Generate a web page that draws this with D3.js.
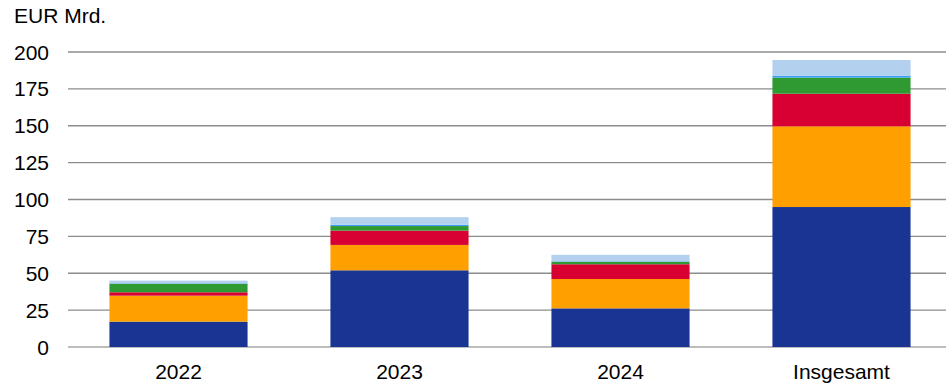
<!DOCTYPE html>
<html>
<head>
<meta charset="utf-8">
<script src="https://cdn.jsdelivr.net/npm/d3@7"></script>
<style>
  body { margin: 0; background: #fff; }
  text { font-family: "Liberation Sans", Arial, sans-serif; fill: #000; }
</style>
</head>
<body>
<svg id="chart" width="946" height="387"></svg>
<script>
'use strict';

const categories = ['2022', '2023', '2024', 'Insgesamt'];
const seriesKeys = ['s1', 's2', 's3', 's4', 's5', 's6'];
const seriesColors = ['#1a3494', '#ff9f00', '#d80032', '#2e9a31', '#3b9ff0', '#b3d0ef'];

// values, bottom to top
const s1 = [17.2, 52.0, 26.2, 94.9];
const s2 = [17.6, 17.2, 19.9, 54.7];
const s3 = [2.3, 9.7, 10.0, 22.1];
const s4 = [5.8, 3.1, 1.7, 10.9];
const s5 = [0.3, 0.9, 0.3, 1.4];
const s6 = [1.8, 5.1, 4.4, 10.6];

const yTicks = [0, 25, 50, 75, 100, 125, 150, 175, 200];

const rows = categories.map((c, i) => ({
  cat: c, s1: s1[i], s2: s2[i], s3: s3[i], s4: s4[i], s5: s5[i], s6: s6[i]
}));

const svg = d3.select('#chart');

const x = d3.scaleBand().domain(categories).range([68, 952]).paddingInner(0.375).paddingOuter(0.1875);
const y = d3.scaleLinear().domain([0, 200]).range([347, 52]);

// gridlines
svg.append('g').selectAll('line').data(yTicks).join('line')
  .attr('x1', 68).attr('x2', 946)
  .attr('y1', d => y(d)).attr('y2', d => y(d))
  .attr('stroke', d => d === 0 ? '#bdbdbd' : '#8c8c8c')
  .attr('stroke-width', d => d === 0 ? 2 : 1.3);

// y tick labels
svg.append('g').selectAll('text').data(yTicks).join('text')
  .attr('x', 49).attr('y', d => y(d) + 7.5)
  .attr('text-anchor', 'end')
  .style('font-size', '21px')
  .text(d => d);

svg.append('text').attr('x', 14).attr('y', 23)
  .style('font-size', '21px').text('EUR Mrd.');

// stacked bars
const stacked = d3.stack().keys(seriesKeys)(rows);

svg.append('g').selectAll('g').data(stacked).join('g')
  .attr('fill', (d, i) => seriesColors[i])
  .selectAll('rect').data(d => d).join('rect')
  .attr('x', d => x(d.data.cat))
  .attr('width', x.bandwidth())
  .attr('y', d => y(d[1]))
  .attr('height', d => y(d[0]) - y(d[1]));

// category labels
svg.append('g').selectAll('text').data(categories).join('text')
  .attr('x', d => x(d) + x.bandwidth() / 2).attr('y', 379)
  .attr('text-anchor', 'middle')
  .style('font-size', '21px')
  .text(d => d);
</script>
</body>
</html>
